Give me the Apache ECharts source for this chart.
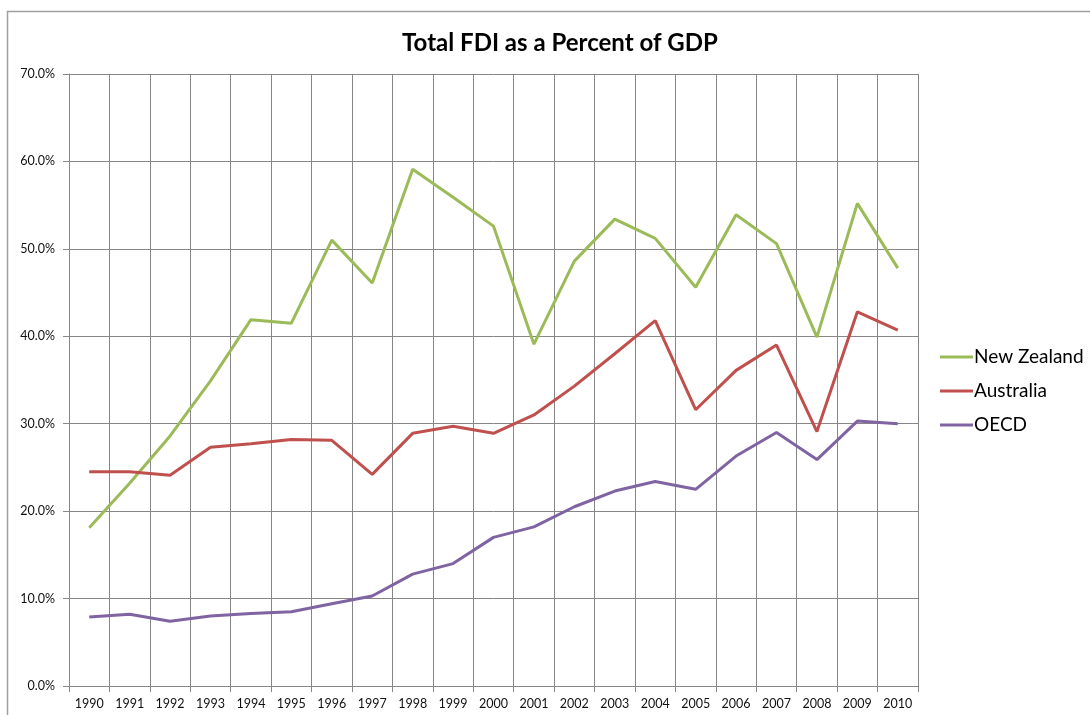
<!DOCTYPE html>
<html>
<head>
<meta charset="utf-8">
<script src="https://cdn.jsdelivr.net/npm/echarts@6/dist/echarts.min.js"></script>
<style>
html,body{margin:0;padding:0;background:#fff;}
#chart{width:1090px;height:715px;}
</style>
</head>
<body>
<div id="chart"></div>
<script>
const years = ['1990','1991','1992','1993','1994','1995','1996','1997','1998','1999','2000','2001','2002','2003','2004','2005','2006','2007','2008','2009','2010'];
const newZealand = [18.1,23.2,28.6,34.9,41.9,41.5,51.0,46.1,59.1,55.9,52.6,39.1,48.6,53.4,51.2,45.6,53.9,50.6,39.9,55.2,47.8];
const australia = [24.5,24.5,24.1,27.3,27.7,28.2,28.1,24.2,28.9,29.7,28.9,31.0,34.3,38.0,41.8,31.6,36.1,39.0,29.1,42.8,40.7];
const oecd = [7.9,8.2,7.4,8.0,8.3,8.5,9.4,10.3,12.8,14.0,17.0,18.2,20.5,22.3,23.4,22.5,26.3,29.0,25.9,30.3,30.0];
const yTicks = {min:0, max:70, interval:10};

const FONT = 'Lato, "Open Sans", sans-serif';
const GRID = '#868686';
const chart = echarts.init(document.getElementById('chart'), null, {renderer:'canvas'});
function line(name, data, color){
  return {name, type:'line', data, symbol:'none', showSymbol:false,
    lineStyle:{color, width:3}, itemStyle:{color}, emphasis:{disabled:true}};
}
chart.setOption({
  animation:false,
  backgroundColor:'#fff',
  title:{text:'Total FDI as a Percent of GDP', left:555, top:26, textAlign:'center',
    textStyle:{fontFamily:FONT, fontSize:24, fontWeight:'bold', color:'#000'}},
  grid:{left:69, right:172, top:74, bottom:29, containLabel:false},
  legend:{orient:'vertical', left:935, top:342, icon:'rect', itemWidth:33, itemHeight:3, itemGap:14,
    textStyle:{fontFamily:FONT, fontSize:19, color:'#000', lineHeight:20, padding:[0,0,0,-4]},
    data:['New Zealand','Australia','OECD']},
  xAxis:{type:'category', data:years, boundaryGap:true,
    axisLine:{show:true, lineStyle:{color:GRID, width:1}},
    axisTick:{show:true, alignWithLabel:false, length:6, lineStyle:{color:GRID}},
    splitLine:{show:true, interval:0, lineStyle:{color:GRID, width:1}},
    axisLabel:{interval:0, margin:11, fontFamily:FONT, fontSize:12.5, color:'#111'}},
  yAxis:{type:'value', min:yTicks.min, max:yTicks.max, interval:yTicks.interval,
    axisLine:{show:true, lineStyle:{color:GRID, width:1}},
    axisTick:{show:true, length:6, lineStyle:{color:GRID}},
    splitLine:{show:true, lineStyle:{color:GRID, width:1}},
    axisLabel:{margin:14, fontFamily:FONT, fontSize:12.5, color:'#111', formatter:v=>v.toFixed(1)+'%'}},
  graphic:[{type:'rect', shape:{x:7.5, y:11.5, width:1200, height:900}, style:{fill:null, stroke:'#a0a0a0', lineWidth:1.5}, silent:true}],
  series:[line('New Zealand', newZealand, '#9BBB59'), line('Australia', australia, '#C0504D'), line('OECD', oecd, '#8064A2')]
});
</script>
</body>
</html>
